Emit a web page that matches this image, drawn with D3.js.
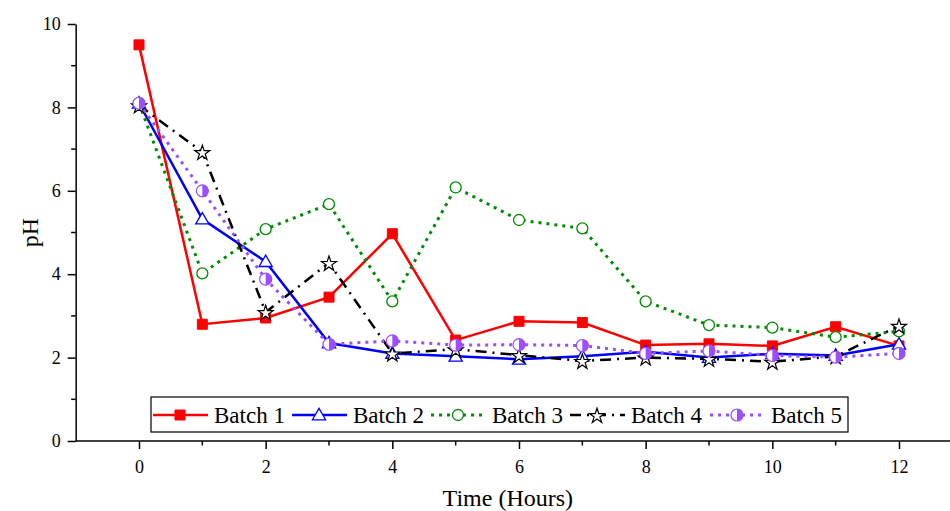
<!DOCTYPE html>
<html>
<head>
<meta charset="utf-8">
<script src="https://cdn.jsdelivr.net/npm/d3@7"></script>
<style>
  body { margin: 0; background: #fff; }
  svg { display: block; font-family: "Liberation Serif", "Times New Roman", serif; }
  .axis path, .axis line { stroke: #000; stroke-width: 1.5; }
</style>
</head>
<body>
<svg width="950" height="511"></svg>
<script>
// hours sampled
var hours = [0, 1, 2, 3, 4, 5, 6, 7, 8, 9, 10, 11, 12];

// pH readings per batch
var batch1 = [9.5, 2.8, 2.95, 3.45, 4.97, 2.42, 2.87, 2.84, 2.3, 2.33, 2.28, 2.74, 2.28];
var batch2 = [8.1, 5.32, 4.3, 2.35, 2.1, 2.03, 1.96, 2.03, 2.14, 2.0, 2.09, 2.05, 2.32];
var batch3 = [8.1, 4.02, 5.08, 5.68, 3.35, 6.08, 5.3, 5.1, 3.35, 2.78, 2.72, 2.49, 2.63];
var batch4 = [8.05, 6.93, 3.09, 4.27, 2.1, 2.2, 2.06, 1.92, 2.0, 1.97, 1.9, 2.03, 2.76];
var batch5 = [8.1, 6.0, 3.88, 2.32, 2.4, 2.3, 2.31, 2.29, 2.1, 2.16, 2.05, 2.01, 2.1];

var seriesNames = ["Batch 1", "Batch 2", "Batch 3", "Batch 4", "Batch 5"];

var xMajor = [0, 2, 4, 6, 8, 10, 12];
var xMinor = [1, 3, 5, 7, 9, 11, 13];
var yMajor = [0, 2, 4, 6, 8, 10];
var yMinor = [1, 3, 5, 7, 9];

var svg = d3.select("svg");

var x = d3.scaleLinear().domain([0, 12]).range([139, 899]);
var y = d3.scaleLinear().domain([0, 10]).range([441, 24]);

// series styles
var styles = [
  {color: "#ff0000", dash: null, width: 2.5, marker: "square"},
  {color: "#0000ff", dash: null, width: 2.5, marker: "triangle"},
  {color: "#008c00", dash: "3,5", width: 3, marker: "circle"},
  {color: "#000000", dash: "11,6,2,6", width: 2.5, marker: "star"},
  {color: "#9b4dff", dash: "3,5", width: 3, marker: "half"}
];

var data = [batch1, batch2, batch3, batch4, batch5].map(function(vals, i) {
  return {
    name: seriesNames[i],
    style: styles[i],
    values: hours.map(function(h, j) { return {h: h, v: vals[j]}; })
  };
});

// axes
var xAxisG = svg.append("g")
  .attr("class", "axis")
  .attr("transform", "translate(0," + y(0) + ")");
xAxisG.call(d3.axisBottom(x).tickValues(xMajor).tickSize(8).tickPadding(11).tickFormat(d3.format("d")));
xAxisG.select(".domain").remove();
xAxisG.append("line")
  .attr("x1", x(-1)).attr("x2", 950)
  .attr("y1", 0).attr("y2", 0)
  .attr("stroke", "#000").attr("stroke-width", 1.5);
xAxisG.selectAll(".minor")
  .data(xMinor)
  .enter().append("line")
    .attr("class", "minor")
    .attr("x1", function(d) { return x(d); })
    .attr("x2", function(d) { return x(d); })
    .attr("y1", 0).attr("y2", 4.5);

var yAxisG = svg.append("g")
  .attr("class", "axis")
  .attr("transform", "translate(" + x(-1) + ",0)");
yAxisG.call(d3.axisLeft(y).tickValues(yMajor).tickSize(8).tickPadding(7).tickSizeOuter(0));
yAxisG.selectAll(".minor")
  .data(yMinor)
  .enter().append("line")
    .attr("class", "minor")
    .attr("x1", 0).attr("x2", -4.5)
    .attr("y1", function(d) { return y(d); })
    .attr("y2", function(d) { return y(d); });

// serif tick labels
svg.selectAll(".axis").attr("font-family", null).attr("font-size", null);
svg.selectAll(".axis text")
  .style("font-family", "'Liberation Serif', 'Times New Roman', serif")
  .style("font-size", "18px")
  .attr("fill", "#000");

// axis titles
svg.append("text")
  .attr("x", (x(-1) + 950) / 2 - 5)
  .attr("y", 506)
  .attr("text-anchor", "middle")
  .style("font-size", "24px")
  .text("Time (Hours)");

svg.append("text")
  .attr("transform", "translate(38," + y(5) + ") rotate(-90)")
  .attr("text-anchor", "middle")
  .style("font-size", "24px")
  .text("pH");

// markers
function drawMarker(sel, s) {
  if (s.marker === "square") {
    sel.append("path").attr("d", d3.symbol(d3.symbolSquare, 100)())
      .attr("fill", s.color).attr("stroke", s.color).attr("stroke-width", 1);
  } else if (s.marker === "triangle") {
    sel.append("path").attr("d", d3.symbol(d3.symbolTriangle, 75)())
      .attr("transform", "translate(0,1)")
      .attr("fill", "#fff").attr("stroke", s.color).attr("stroke-width", 1.3);
  } else if (s.marker === "circle") {
    sel.append("circle").attr("r", 5.5)
      .attr("fill", "#fff").attr("stroke", s.color).attr("stroke-width", 1.3);
  } else if (s.marker === "star") {
    sel.append("path").attr("d", d3.symbol(d3.symbolStar, 70)())
      .attr("transform", "translate(0,1)")
      .attr("fill", "#fff").attr("stroke", s.color).attr("stroke-width", 1.2);
  } else if (s.marker === "half") {
    sel.append("circle").attr("r", 6)
      .attr("fill", "#fff").attr("stroke", s.color).attr("stroke-width", 1.2);
    sel.append("path").attr("d", "M0,-6A6,6 0 0,1 0,6Z")
      .attr("fill", s.color);
  }
}

var line = d3.line()
  .x(function(d) { return x(d.h); })
  .y(function(d) { return y(d.v); });

var series = svg.selectAll(".series")
  .data(data)
  .enter().append("g")
    .attr("class", "series");

series.append("path")
  .attr("d", function(d) { return line(d.values); })
  .attr("fill", "none")
  .attr("stroke", function(d) { return d.style.color; })
  .attr("stroke-width", function(d) { return d.style.width; })
  .attr("stroke-dasharray", function(d) { return d.style.dash; });

series.each(function(d) {
  var g = d3.select(this);
  d.values.forEach(function(p) {
    var m = g.append("g").attr("transform", "translate(" + x(p.h) + "," + y(p.v) + ")");
    drawMarker(m, d.style);
  });
});

// legend
var legend = svg.append("g").attr("class", "legend");
legend.append("rect")
  .attr("x", 151).attr("y", 397)
  .attr("width", 697).attr("height", 35)
  .attr("fill", "#fff").attr("stroke", "#000").attr("stroke-width", 1.2);

var legendX = [153, 292, 431, 570, 710];
data.forEach(function(d, i) {
  var lg = legend.append("g").attr("transform", "translate(" + legendX[i] + ",415)");
  lg.append("line")
    .attr("x1", 0).attr("x2", 55)
    .attr("stroke", d.style.color)
    .attr("stroke-width", d.style.width)
    .attr("stroke-dasharray", d.style.dash);
  var m = lg.append("g").attr("transform", "translate(27,0)");
  drawMarker(m, d.style);
  lg.append("text")
    .attr("x", 61).attr("y", 8)
    .style("font-size", "23px")
    .text(d.name);
});
</script>
</body>
</html>
